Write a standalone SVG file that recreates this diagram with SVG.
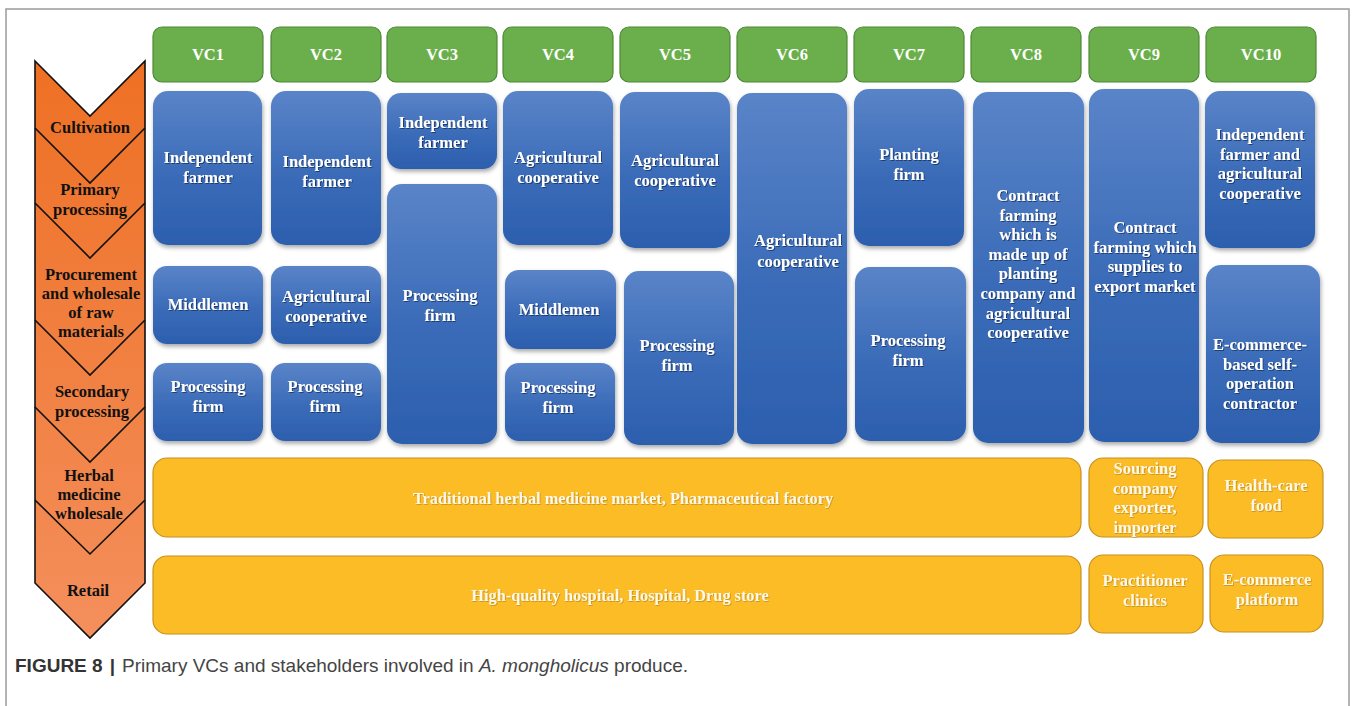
<svg xmlns="http://www.w3.org/2000/svg" width="1354" height="706" viewBox="0 0 1354 706">
<defs>
<linearGradient id="gOrange" x1="0" y1="0" x2="0" y2="1">
<stop offset="0" stop-color="#EE7024"/>
<stop offset="1" stop-color="#F48F5C"/>
</linearGradient>
<linearGradient id="gBlue" x1="0" y1="0" x2="0" y2="1">
<stop offset="0" stop-color="#5A84C8"/>
<stop offset="0.55" stop-color="#3A6BB8"/>
<stop offset="1" stop-color="#2C5FAE"/>
</linearGradient>
<filter id="shadow" x="-10%" y="-10%" width="125%" height="125%">
<feDropShadow dx="1" dy="2.5" stdDeviation="2" flood-color="#000" flood-opacity="0.35"/>
</filter>
<filter id="tshadow" x="-10%" y="-20%" width="120%" height="150%">
<feDropShadow dx="1" dy="1" stdDeviation="0.6" flood-color="#10284f" flood-opacity="0.7"/>
</filter>
<filter id="yshadow" x="-10%" y="-20%" width="120%" height="150%">
<feDropShadow dx="0.8" dy="0.8" stdDeviation="0.5" flood-color="#8a6000" flood-opacity="0.5"/>
</filter>
</defs>
<style>
.vc{fill:#6BAF4C;stroke:#4E8936;stroke-width:1.2}
.blue{fill:url(#gBlue);filter:url(#shadow)}
.yel{fill:#FBBC26;stroke:#C8921E;stroke-width:1.2}
text{font-family:"Liberation Serif","Times New Roman",serif;font-weight:bold;text-anchor:middle}
.vt{fill:#ffffff;font-size:16.5px}
.bt{fill:#ffffff;font-size:16.5px;filter:url(#tshadow)}
.yt{fill:#FFF8E6;font-size:16.5px;filter:url(#yshadow)}
.ytm{font-size:16.3px}
.st{fill:#111111;font-size:16.5px}
.vline{fill:none;stroke:#111;stroke-width:1.6}
.cap{font-family:"Liberation Sans",Arial,sans-serif;font-weight:normal;text-anchor:start;font-size:19px;fill:#444}
</style>
<rect x="0" y="0" width="1354" height="706" fill="#ffffff"/>
<rect x="6" y="9" width="1343" height="720" fill="none" stroke="#9a9a9a" stroke-width="1.5"/>

<g id="stages">
<polygon points="35,61 90,116 145,61 145,583 90,638 35,583" fill="url(#gOrange)" stroke="#111" stroke-width="1.6"/>
<polyline class="vline" points="35,128 90,183 145,128"/>
<polyline class="vline" points="35,203 90,258 145,203"/>
<polyline class="vline" points="35,320 90,375 145,320"/>
<polyline class="vline" points="35,407 90,462 145,407"/>
<polyline class="vline" points="35,500 90,554 145,500"/>
<text class="st" x="90" y="133">Cultivation</text>
<text class="st" x="90" y="195">Primary</text>
<text class="st" x="90" y="215">processing</text>
<text class="st" x="91" y="280">Procurement</text>
<text class="st" x="91" y="299">and wholesale</text>
<text class="st" x="91" y="318">of raw</text>
<text class="st" x="91" y="337">materials</text>
<text class="st" x="92" y="397">Secondary</text>
<text class="st" x="92" y="417">processing</text>
<text class="st" x="89" y="481">Herbal</text>
<text class="st" x="89" y="500">medicine</text>
<text class="st" x="89" y="519">wholesale</text>
<text class="st" x="88" y="596">Retail</text>
</g>

<g id="vc-headers">
<g id="vc1"><rect class="vc" x="153" y="27" width="110" height="55" rx="9"/><text class="vt" x="208" y="60">VC1</text></g>
<g id="vc2"><rect class="vc" x="271" y="27" width="110" height="55" rx="9"/><text class="vt" x="326" y="60">VC2</text></g>
<g id="vc3"><rect class="vc" x="387" y="27" width="110" height="55" rx="9"/><text class="vt" x="442" y="60">VC3</text></g>
<g id="vc4"><rect class="vc" x="503" y="27" width="110" height="55" rx="9"/><text class="vt" x="558" y="60">VC4</text></g>
<g id="vc5"><rect class="vc" x="620" y="27" width="110" height="55" rx="9"/><text class="vt" x="675" y="60">VC5</text></g>
<g id="vc6"><rect class="vc" x="737" y="27" width="110" height="55" rx="9"/><text class="vt" x="792" y="60">VC6</text></g>
<g id="vc7"><rect class="vc" x="854" y="27" width="110" height="55" rx="9"/><text class="vt" x="909" y="60">VC7</text></g>
<g id="vc8"><rect class="vc" x="971" y="27" width="110" height="55" rx="9"/><text class="vt" x="1026" y="60">VC8</text></g>
<g id="vc9"><rect class="vc" x="1089" y="27" width="110" height="55" rx="9"/><text class="vt" x="1144" y="60">VC9</text></g>
<g id="vc10"><rect class="vc" x="1206" y="27" width="110" height="55" rx="9"/><text class="vt" x="1261" y="60">VC10</text></g>
</g>

<g id="vc1-farmer"><rect class="blue" x="153" y="91" width="109" height="154" rx="15"/><text class="bt" x="208" y="163">Independent<tspan x="208" dy="20">farmer</tspan></text></g>
<g id="vc1-middlemen"><rect class="blue" x="153" y="266" width="110" height="78" rx="14"/><text class="bt" x="208" y="310">Middlemen</text></g>
<g id="vc1-processing"><rect class="blue" x="153" y="363" width="110" height="78" rx="14"/><text class="bt" x="208" y="392">Processing<tspan x="208" dy="20">firm</tspan></text></g>

<g id="vc2-farmer"><rect class="blue" x="271" y="91" width="110" height="154" rx="15"/><text class="bt" x="327" y="167">Independent<tspan x="327" dy="20">farmer</tspan></text></g>
<g id="vc2-coop"><rect class="blue" x="271" y="266" width="110" height="78" rx="14"/><text class="bt" x="326" y="302">Agricultural<tspan x="326" dy="20">cooperative</tspan></text></g>
<g id="vc2-processing"><rect class="blue" x="271" y="363" width="110" height="78" rx="14"/><text class="bt" x="325" y="392">Processing<tspan x="325" dy="20">firm</tspan></text></g>

<g id="vc3-farmer"><rect class="blue" x="387" y="93" width="110" height="76" rx="14"/><text class="bt" x="443" y="128">Independent<tspan x="443" dy="20">farmer</tspan></text></g>
<g id="vc3-processing"><rect class="blue" x="387" y="184" width="110" height="260" rx="15"/><text class="bt" x="440" y="301">Processing<tspan x="440" dy="20">firm</tspan></text></g>

<g id="vc4-coop"><rect class="blue" x="503" y="91" width="110" height="154" rx="15"/><text class="bt" x="558" y="163">Agricultural<tspan x="558" dy="20">cooperative</tspan></text></g>
<g id="vc4-middlemen"><rect class="blue" x="505" y="270" width="111" height="79" rx="14"/><text class="bt" x="559" y="315">Middlemen</text></g>
<g id="vc4-processing"><rect class="blue" x="505" y="363" width="110" height="78" rx="14"/><text class="bt" x="558" y="393">Processing<tspan x="558" dy="20">firm</tspan></text></g>

<g id="vc5-coop"><rect class="blue" x="620" y="92" width="110" height="156" rx="15"/><text class="bt" x="675" y="166">Agricultural<tspan x="675" dy="20">cooperative</tspan></text></g>
<g id="vc5-processing"><rect class="blue" x="624" y="271" width="110" height="174" rx="15"/><text class="bt" x="677" y="351">Processing<tspan x="677" dy="20">firm</tspan></text></g>

<g id="vc6-coop"><rect class="blue" x="737" y="93" width="110" height="351" rx="15"/><text class="bt" x="798" y="246">Agricultural<tspan x="798" dy="21">cooperative</tspan></text></g>

<g id="vc7-planting"><rect class="blue" x="854" y="89" width="110" height="157" rx="15"/><text class="bt" x="909" y="160">Planting<tspan x="909" dy="20">firm</tspan></text></g>
<g id="vc7-processing"><rect class="blue" x="855" y="267" width="111" height="174" rx="15"/><text class="bt" x="908" y="346">Processing<tspan x="908" dy="20">firm</tspan></text></g>

<g id="vc8-contract"><rect class="blue" x="973" y="92" width="111" height="351" rx="15"/><text class="bt" x="1028" y="201">Contract<tspan x="1028" dy="19.6">farming</tspan><tspan x="1028" dy="19.6">which is</tspan><tspan x="1028" dy="19.6">made up of</tspan><tspan x="1028" dy="19.6">planting</tspan><tspan x="1028" dy="19.6">company and</tspan><tspan x="1028" dy="19.6">agricultural</tspan><tspan x="1028" dy="19.6">cooperative</tspan></text></g>

<g id="vc9-contract"><rect class="blue" x="1089" y="89" width="110" height="353" rx="15"/><text class="bt" x="1145" y="233">Contract<tspan x="1145" dy="19.5">farming which</tspan><tspan x="1145" dy="19.5">supplies to</tspan><tspan x="1145" dy="19.5">export market</tspan></text></g>

<g id="vc10-farmer-coop"><rect class="blue" x="1205" y="91" width="110" height="157" rx="15"/><text class="bt" x="1260" y="140">Independent<tspan x="1260" dy="19.5">farmer and</tspan><tspan x="1260" dy="19.5">agricultural</tspan><tspan x="1260" dy="19.5">cooperative</tspan></text></g>
<g id="vc10-ecommerce"><rect class="blue" x="1206" y="265" width="114" height="178" rx="15"/><text class="bt" x="1260" y="350">E-commerce-<tspan x="1260" dy="19.5">based self-</tspan><tspan x="1260" dy="19.5">operation</tspan><tspan x="1260" dy="19.5">contractor</tspan></text></g>

<g id="wholesale-main"><rect class="yel" x="153" y="458" width="928" height="79" rx="14"/><text class="yt ytm" x="623" y="504">Traditional herbal medicine market, Pharmaceutical factory</text></g>
<g id="retail-main"><rect class="yel" x="153" y="556" width="928" height="78" rx="14"/><text class="yt ytm" x="620" y="601">High-quality hospital, Hospital, Drug store</text></g>
<g id="vc9-sourcing"><rect class="yel" x="1089" y="458" width="114" height="79" rx="14"/><text class="yt" x="1145" y="474">Sourcing<tspan x="1145" dy="19.5">company</tspan><tspan x="1145" dy="19.5">exporter,</tspan><tspan x="1145" dy="19.5">importer</tspan></text></g>
<g id="vc10-healthcare"><rect class="yel" x="1208" y="460" width="115" height="78" rx="14"/><text class="yt" x="1266" y="491">Health-care<tspan x="1266" dy="19.5">food</tspan></text></g>
<g id="vc9-clinics"><rect class="yel" x="1089" y="555" width="114" height="78" rx="14"/><text class="yt" x="1145" y="586">Practitioner<tspan x="1145" dy="20">clinics</tspan></text></g>
<g id="vc10-platform"><rect class="yel" x="1210" y="555" width="113" height="77" rx="14"/><text class="yt" x="1267" y="585">E-commerce<tspan x="1267" dy="20">platform</tspan></text></g>

<g id="connectors"/>

<text class="cap" x="15" y="672"><tspan font-weight="bold" fill="#333">FIGURE 8</tspan><tspan font-weight="bold" fill="#333" dx="7">|</tspan><tspan dx="7">Primary VCs and stakeholders involved in </tspan><tspan font-style="italic">A. mongholicus</tspan><tspan> produce.</tspan></text>
</svg>
